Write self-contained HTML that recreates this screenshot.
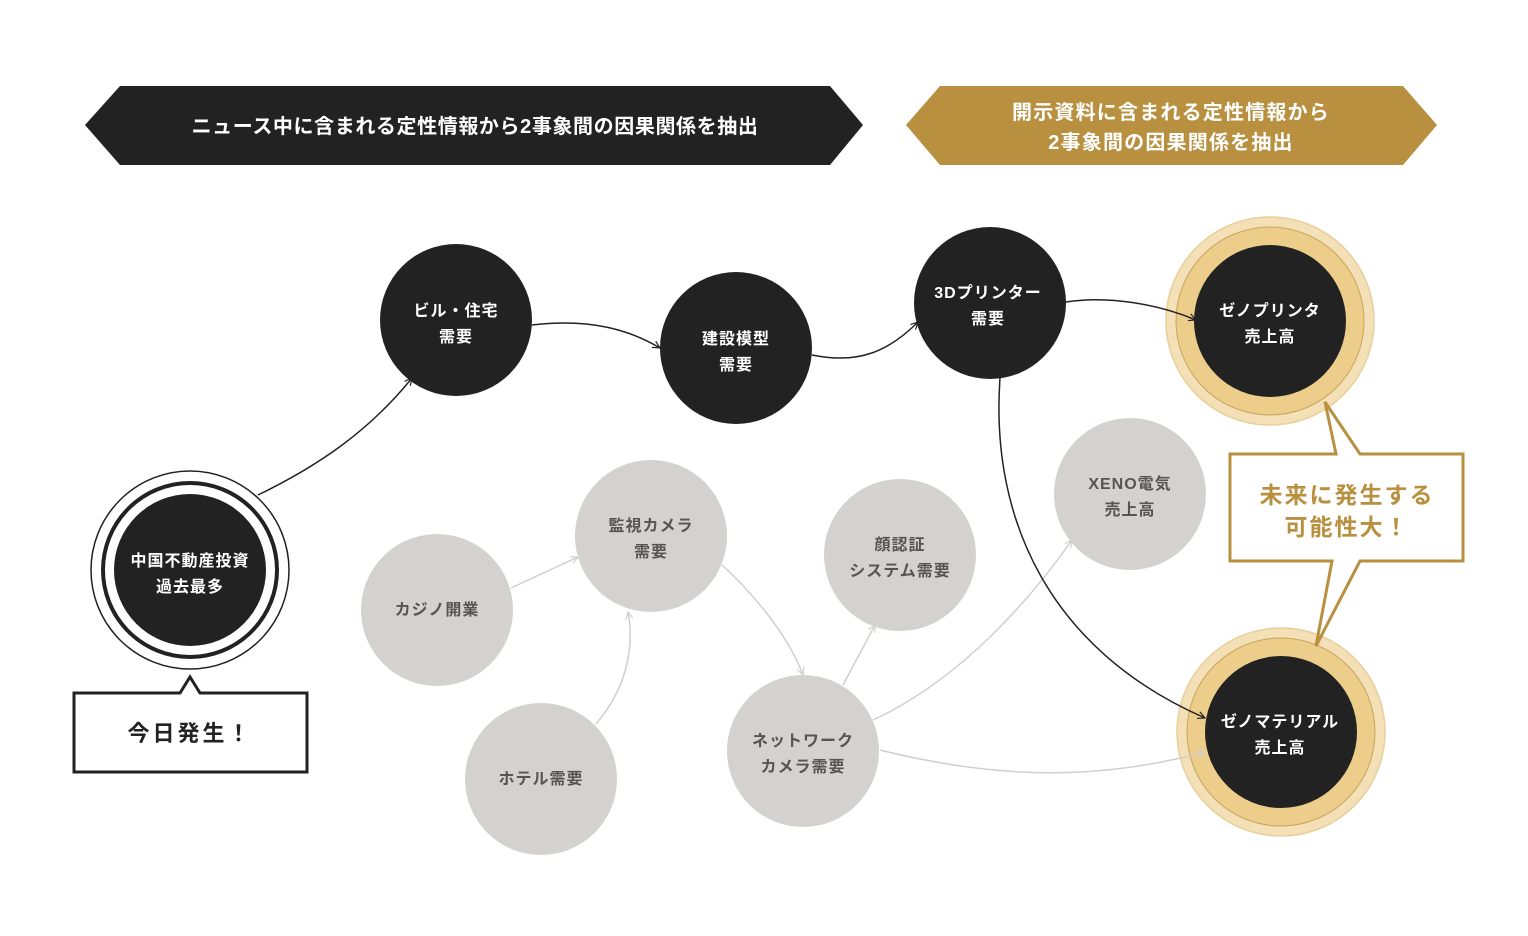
<!DOCTYPE html>
<html><head><meta charset="utf-8"><style>
html,body{margin:0;padding:0;background:#fff}
svg{display:block}
text{font-family:"Liberation Sans","Noto Sans CJK JP",sans-serif}
</style></head><body>
<svg width="1528" height="936" viewBox="0 0 1528 936" xmlns="http://www.w3.org/2000/svg">
<defs>
<marker id="ab" viewBox="0 0 10 10" refX="9" refY="5" markerWidth="9" markerHeight="9" orient="auto" markerUnits="userSpaceOnUse"><path d="M1,1 L9,5 L1,9" fill="none" stroke="#222" stroke-width="1.3"/></marker>
<marker id="ag" viewBox="0 0 10 10" refX="9" refY="5" markerWidth="9" markerHeight="9" orient="auto" markerUnits="userSpaceOnUse"><path d="M1,1 L9,5 L1,9" fill="none" stroke="#d0cfcc" stroke-width="1.3"/></marker>
</defs>
<!-- banners -->
<polygon points="120,86 830,86 863,125 830,165 120,165 85,125" fill="#222"/>
<text x="475" y="133" fill="#fff" font-size="20" font-weight="bold" text-anchor="middle" letter-spacing="0.6">ニュース中に含まれる定性情報から2事象間の因果関係を抽出</text>
<polygon points="940,86 1403,86 1437,125 1403,165 940,165 906,125" fill="#b8903f"/>
<text x="1171" y="119" fill="#fff" font-size="20" font-weight="bold" text-anchor="middle" letter-spacing="1.2">開示資料に含まれる定性情報から</text>
<text x="1171" y="149" fill="#fff" font-size="20" font-weight="bold" text-anchor="middle" letter-spacing="1.2">2事象間の因果関係を抽出</text>

<!-- gold rings -->
<g>
<circle cx="1270" cy="321" r="104" fill="#f4e0b6" stroke="#e8cf9a" stroke-width="1.5"/>
<circle cx="1270" cy="321" r="94" fill="#edcd8a" stroke="#c9a45e" stroke-width="1"/>
<circle cx="1281" cy="732" r="104" fill="#f4e0b6" stroke="#e8cf9a" stroke-width="1.5"/>
<circle cx="1281" cy="732" r="94" fill="#edcd8a" stroke="#c9a45e" stroke-width="1"/>
</g>

<!-- gray connectors -->
<g fill="none" stroke="#d0cfcc" stroke-width="1.5">
<path d="M511,588 L578,557" marker-end="url(#ag)"/>
<path d="M596,724 C625,690 635,650 628,612" marker-end="url(#ag)"/>
<path d="M722,565 C760,600 790,640 803,675" marker-end="url(#ag)"/>
<path d="M843,685 L875,625" marker-end="url(#ag)"/>
<path d="M873,720 C960,680 1030,600 1072,540" marker-end="url(#ag)"/>
<path d="M880,750 C1000,780 1100,780 1205,752" marker-end="url(#ag)"/>
</g>

<!-- gray nodes -->
<g fill="#d3d2d0">
<circle cx="651" cy="536" r="76"/><circle cx="437" cy="610" r="76"/><circle cx="541" cy="779" r="76"/>
<circle cx="900" cy="555" r="76"/><circle cx="1130" cy="494" r="76"/><circle cx="803" cy="751" r="76"/>
</g>
<g fill="#555" font-size="16" font-weight="bold" text-anchor="middle" letter-spacing="1">
<text x="651" y="531">監視カメラ</text><text x="651" y="557">需要</text>
<text x="437" y="615">カジノ開業</text>
<text x="541" y="784">ホテル需要</text>
<text x="900" y="550">顔認証</text><text x="900" y="576">システム需要</text>
<text x="1130" y="489">XENO電気</text><text x="1130" y="515">売上高</text>
<text x="803" y="746">ネットワーク</text><text x="803" y="772">カメラ需要</text>
</g>

<!-- left start node -->
<circle cx="190" cy="570" r="99" fill="#fff" stroke="#222" stroke-width="1.5"/>
<circle cx="190" cy="570" r="87" fill="#fff" stroke="#222" stroke-width="4"/>

<!-- black nodes -->
<g fill="#222">
<circle cx="190" cy="570" r="76"/>
<circle cx="456" cy="320" r="76"/><circle cx="736" cy="348" r="76"/><circle cx="990" cy="303" r="76"/>
<circle cx="1270" cy="321" r="76"/><circle cx="1281" cy="732" r="76"/>
</g>
<g fill="#fff" font-size="16" font-weight="bold" text-anchor="middle" letter-spacing="1">
<text x="190" y="566">中国不動産投資</text><text x="190" y="592">過去最多</text>
<text x="456" y="316">ビル・住宅</text><text x="456" y="342">需要</text>
<text x="736" y="344">建設模型</text><text x="736" y="370">需要</text>
<text x="988" y="298">3Dプリンター</text><text x="988" y="324">需要</text>
<text x="1270" y="316">ゼノプリンタ</text><text x="1270" y="342">売上高</text>
<text x="1280" y="727">ゼノマテリアル</text><text x="1280" y="753">売上高</text>
</g>

<!-- black connectors -->
<g fill="none" stroke="#222" stroke-width="1.5">
<path d="M258,495 C320,465 370,430 412,378" marker-end="url(#ab)"/>
<path d="M532,325 C590,318 630,330 660,348" marker-end="url(#ab)"/>
<path d="M812,355 C860,365 890,350 918,322" marker-end="url(#ab)"/>
<path d="M1066,302 C1110,295 1160,305 1196,320" marker-end="url(#ab)"/>
<path d="M1000,378 C990,520 1050,650 1205,718" marker-end="url(#ab)"/>
</g>

<!-- callout 今日発生 -->
<path d="M74,693 L180,693 L190,677 L200,693 L307,693 L307,772 L74,772 Z" fill="#fff" stroke="#222" stroke-width="3"/>
<text x="190" y="741" font-size="22" font-weight="bold" fill="#222" text-anchor="middle" letter-spacing="3">今日発生！</text>

<!-- gold callout -->
<path d="M1230,454 L1336,454 L1325,402 L1360,454 L1463,454 L1463,561 L1360,561 L1316,646 L1332,561 L1230,561 Z" fill="#fff" stroke="#b8903f" stroke-width="3"/>
<text x="1347" y="503" font-size="23" font-weight="bold" fill="#b8903f" text-anchor="middle" letter-spacing="2">未来に発生する</text>
<text x="1347" y="535" font-size="23" font-weight="bold" fill="#b8903f" text-anchor="middle" letter-spacing="2">可能性大！</text>
</svg>
</body></html>
